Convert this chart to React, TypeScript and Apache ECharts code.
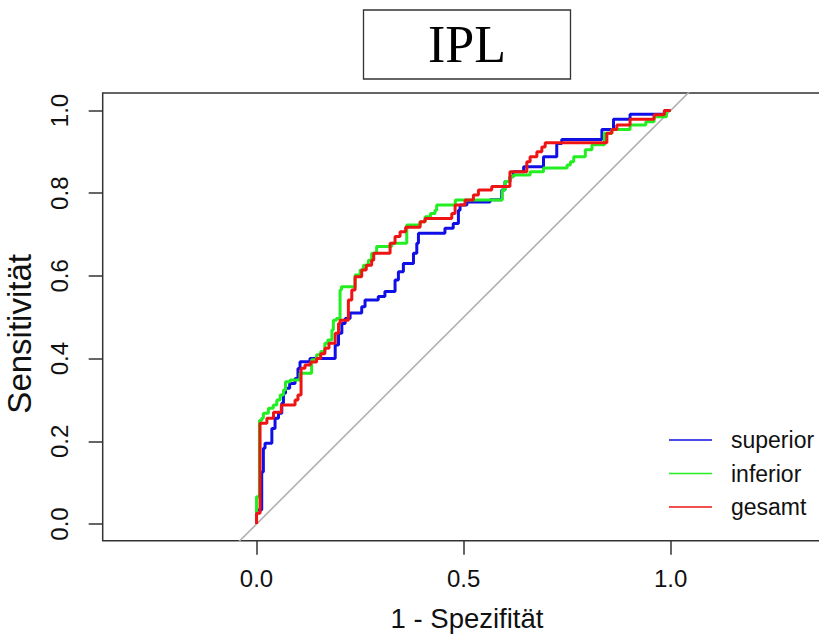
import React, { useEffect, useRef } from "react";
import * as echarts from "echarts";

const seriesNames = ["superior", "inferior", "gesamt"];
const seriesColors = ["#1010e6", "#22ee22", "#ee1414"];

const superior: [number, number][] = [
  [0, 0], [0, 0.034], [0.0125, 0.034], [0.0125, 0.126], [0.0165, 0.126], [0.0165, 0.183],
  [0.0205, 0.183], [0.0205, 0.195], [0.037, 0.195], [0.037, 0.231], [0.0447, 0.231], [0.0447, 0.256],
  [0.053, 0.256], [0.053, 0.268], [0.061, 0.268], [0.061, 0.292], [0.065, 0.292], [0.065, 0.316],
  [0.07, 0.316], [0.07, 0.328], [0.08, 0.328], [0.08, 0.34], [0.093, 0.34], [0.093, 0.352],
  [0.1, 0.352], [0.1, 0.376], [0.105, 0.376], [0.105, 0.3925], [0.129, 0.3925], [0.129, 0.4],
  [0.19, 0.4], [0.19, 0.433], [0.198, 0.433], [0.198, 0.461], [0.206, 0.461], [0.206, 0.485],
  [0.214, 0.485], [0.214, 0.497], [0.226, 0.497], [0.226, 0.51], [0.254, 0.51], [0.254, 0.5256],
  [0.262, 0.5256], [0.262, 0.5417], [0.294, 0.5417], [0.294, 0.55], [0.31, 0.55], [0.31, 0.562],
  [0.3345, 0.562], [0.3345, 0.59], [0.3426, 0.59], [0.3426, 0.61], [0.3546, 0.61], [0.3546, 0.63],
  [0.379, 0.63], [0.379, 0.655], [0.387, 0.655], [0.387, 0.679], [0.391, 0.679], [0.391, 0.703],
  [0.455, 0.703], [0.455, 0.715], [0.475, 0.715], [0.475, 0.727], [0.4875, 0.727], [0.4875, 0.759],
  [0.4915, 0.759], [0.4915, 0.7715], [0.508, 0.7715], [0.508, 0.779], [0.564, 0.779], [0.564, 0.784],
  [0.592, 0.784], [0.592, 0.808], [0.6, 0.808], [0.6, 0.828], [0.612, 0.828], [0.612, 0.84],
  [0.62, 0.84], [0.62, 0.852], [0.645, 0.852], [0.645, 0.864], [0.693, 0.864], [0.693, 0.888],
  [0.725, 0.888], [0.725, 0.92], [0.737, 0.92], [0.737, 0.93], [0.834, 0.93], [0.834, 0.954],
  [0.862, 0.954], [0.862, 0.979], [0.902, 0.979], [0.902, 0.991], [0.985, 0.991], [0.985, 1], [1, 1],
];

const inferior: [number, number][] = [
  [0, 0], [0, 0.066], [0.007, 0.066], [0.007, 0.25], [0.0125, 0.25], [0.0125, 0.256],
  [0.0165, 0.256], [0.0165, 0.268], [0.0286, 0.268], [0.0286, 0.28], [0.0406, 0.28], [0.0406, 0.288],
  [0.049, 0.288], [0.049, 0.3], [0.057, 0.3], [0.057, 0.312], [0.065, 0.312], [0.065, 0.324],
  [0.07, 0.324], [0.07, 0.344], [0.081, 0.344], [0.081, 0.348], [0.105, 0.348], [0.105, 0.3644],
  [0.133, 0.3644], [0.133, 0.397], [0.145, 0.397], [0.145, 0.409], [0.155, 0.409], [0.155, 0.417],
  [0.165, 0.417], [0.165, 0.437], [0.172, 0.437], [0.172, 0.445], [0.182, 0.445], [0.182, 0.469],
  [0.1855, 0.469], [0.1855, 0.493], [0.193, 0.493], [0.193, 0.497], [0.2017, 0.497], [0.2017, 0.566],
  [0.205, 0.566], [0.205, 0.574], [0.238, 0.574], [0.238, 0.602], [0.25, 0.602], [0.25, 0.614],
  [0.258, 0.614], [0.258, 0.626], [0.27, 0.626], [0.27, 0.638], [0.278, 0.638], [0.278, 0.655],
  [0.29, 0.655], [0.29, 0.671], [0.3265, 0.671], [0.3265, 0.679], [0.3628, 0.679], [0.3628, 0.723],
  [0.395, 0.723], [0.395, 0.731], [0.407, 0.731], [0.407, 0.743], [0.42, 0.743], [0.42, 0.751],
  [0.431, 0.751], [0.431, 0.759], [0.435, 0.759], [0.435, 0.7715], [0.48, 0.7715], [0.48, 0.7836],
  [0.5935, 0.7836], [0.5935, 0.8077], [0.6, 0.8077], [0.6, 0.828], [0.612, 0.828], [0.612, 0.84],
  [0.62, 0.84], [0.62, 0.844], [0.6606, 0.844], [0.6606, 0.852], [0.693, 0.852], [0.693, 0.861],
  [0.75, 0.861], [0.75, 0.868], [0.758, 0.868], [0.758, 0.876], [0.766, 0.876], [0.766, 0.888],
  [0.794, 0.888], [0.794, 0.905], [0.81, 0.905], [0.81, 0.917], [0.84, 0.917], [0.84, 0.945],
  [0.858, 0.945], [0.858, 0.954], [0.902, 0.954], [0.902, 0.965], [0.94, 0.965], [0.94, 0.973],
  [0.96, 0.973], [0.96, 0.985], [0.99, 0.985], [0.99, 1], [1, 1],
];

const gesamt: [number, number][] = [
  [0, 0], [0, 0.026], [0.0085, 0.026], [0.0085, 0.2435], [0.025, 0.2435], [0.025, 0.256],
  [0.041, 0.256], [0.041, 0.27], [0.06, 0.27], [0.06, 0.288], [0.093, 0.288], [0.093, 0.3],
  [0.1, 0.3], [0.1, 0.312], [0.1075, 0.312], [0.1075, 0.3765], [0.117, 0.3765], [0.117, 0.3845],
  [0.13, 0.3845], [0.13, 0.392], [0.145, 0.392], [0.145, 0.4], [0.155, 0.4], [0.155, 0.412],
  [0.165, 0.412], [0.165, 0.425], [0.175, 0.425], [0.175, 0.437], [0.19, 0.437], [0.19, 0.461],
  [0.198, 0.461], [0.198, 0.485], [0.2017, 0.485], [0.2017, 0.493], [0.2218, 0.493], [0.2218, 0.5417],
  [0.23, 0.5417], [0.23, 0.566], [0.238, 0.566], [0.238, 0.598], [0.254, 0.598], [0.254, 0.614],
  [0.265, 0.614], [0.265, 0.626], [0.278, 0.626], [0.278, 0.638], [0.283, 0.638], [0.283, 0.6547],
  [0.3225, 0.6547], [0.3225, 0.679], [0.3345, 0.679], [0.3345, 0.695], [0.3466, 0.695], [0.3466, 0.707],
  [0.36, 0.707], [0.36, 0.7175], [0.395, 0.7175], [0.395, 0.731], [0.407, 0.731], [0.407, 0.739],
  [0.4715, 0.739], [0.4715, 0.751], [0.4795, 0.751], [0.4795, 0.7715], [0.5036, 0.7715], [0.5036, 0.7836],
  [0.5237, 0.7836], [0.5237, 0.7957], [0.5358, 0.7957], [0.5358, 0.8077], [0.568, 0.8077], [0.568, 0.816],
  [0.612, 0.816], [0.612, 0.852], [0.6527, 0.852], [0.6527, 0.876], [0.6606, 0.876], [0.6606, 0.888],
  [0.677, 0.888], [0.677, 0.9], [0.689, 0.9], [0.689, 0.912], [0.697, 0.912], [0.697, 0.922],
  [0.846, 0.922], [0.846, 0.945], [0.858, 0.945], [0.858, 0.954], [0.87, 0.954], [0.87, 0.965],
  [0.902, 0.965], [0.902, 0.979], [0.96, 0.979], [0.96, 0.99], [0.985, 0.99], [0.985, 1], [1, 1],
];

const diagonal: [number, number][] = [[-0.1, -0.1], [1.1, 1.1]];

const xTicks = [0, 0.5, 1];
const yTicks = [0, 0.2, 0.4, 0.6, 0.8, 1];

const SANS = "'Liberation Sans', Arial, Helvetica, sans-serif";
const SERIF = "'Liberation Serif', 'Times New Roman', serif";

export default function App() {
  const ref = useRef<HTMLDivElement>(null);
  useEffect(() => {
    if (!ref.current) return;
    const chart = echarts.init(ref.current, undefined, { renderer: "svg" });
    const curves = [superior, inferior, gesamt];
    chart.setOption({
      animation: false,
      backgroundColor: "#ffffff",
      title: {
        text: "IPL",
        left: 363.5,
        top: 9.5,
        padding: [9, 64.5],
        borderColor: "#333",
        borderWidth: 1.3,
        textStyle: { fontFamily: SERIF, fontSize: 52, fontWeight: "normal", color: "#000", lineHeight: 52 },
      },
      legend: {
        data: seriesNames,
        orient: "vertical",
        left: 669,
        top: 428.5,
        padding: 0,
        itemGap: 10.5,
        itemWidth: 43,
        itemHeight: 1.6,
        icon: "rect",
        textStyle: {
          fontFamily: SANS,
          fontSize: 23,
          color: "#111",
          lineHeight: 23,
          padding: [0, 0, 0, 14],
          overflow: "none",
        },
      },
      grid: {
        left: 102.7,
        top: 93,
        width: 728.6,
        height: 447.7,
        outerBoundsMode: "none",
        containLabel: false,
        show: true,
        borderColor: "#333",
        borderWidth: 1.5,
        backgroundColor: "transparent",
      },
      xAxis: {
        type: "value",
        min: -0.3715,
        max: 1.388,
        name: "1 - Spezifität",
        nameLocation: "middle",
        nameGap: 64,
        nameTextStyle: { fontFamily: SANS, fontSize: 27.5, color: "#111" },
        axisLine: { show: false, onZero: false },
        axisTick: { show: true, length: 14, inside: false, customValues: xTicks, lineStyle: { color: "#333", width: 1.5 } },
        axisLabel: {
          customValues: xTicks,
          margin: 26,
          fontFamily: SANS,
          fontSize: 24,
          color: "#111",
          formatter: (v: number) => v.toFixed(1),
        },
        splitLine: { show: false },
      },
      yAxis: {
        type: "value",
        min: -0.0404,
        max: 1.0423,
        name: "Sensitivität",
        nameLocation: "middle",
        nameGap: 66.5,
        nameTextStyle: { fontFamily: SANS, fontSize: 33, color: "#111", padding: [0, 34, 0, 0] },
        axisLine: { show: false, onZero: false },
        axisTick: { show: true, length: 14, inside: false, customValues: yTicks, lineStyle: { color: "#333", width: 1.5 } },
        axisLabel: {
          customValues: yTicks,
          rotate: 90,
          margin: 31,
          fontFamily: SANS,
          fontSize: 24,
          color: "#111",
          formatter: (v: number) => v.toFixed(1),
        },
        splitLine: { show: false },
      },
      series: [
        {
          name: "diagonal",
          type: "line",
          data: diagonal,
          showSymbol: false,
          silent: true,
          clip: true,
          lineStyle: { color: "#b0b0b0", width: 1.6 },
          z: 1,
        },
        ...curves.map((d, i) => ({
          name: seriesNames[i],
          type: "line",
          data: d,
          showSymbol: false,
          clip: true,
          color: seriesColors[i],
          lineStyle: { color: seriesColors[i], width: 3 },
          z: 2 + i,
        })),
      ],
    });
    return () => chart.dispose();
  }, []);
  return (
    <div
      ref={ref}
      style={{ position: "fixed", left: 0, top: 0, width: 819, height: 637, background: "#fff" }}
    />
  );
}
